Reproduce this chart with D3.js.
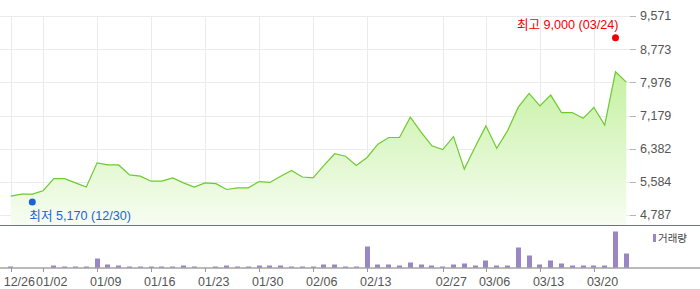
<!DOCTYPE html>
<meta charset="utf-8">
<style>
body { margin: 0; background: #fff; }
text { font-family: "Liberation Sans", Arial, "Noto Sans CJK KR", sans-serif; }
</style>
<body>
<script src="https://cdnjs.cloudflare.com/ajax/libs/d3/7.8.5/d3.min.js"></script>
<script>

// trading days shown on the chart
var dates = ["12/26","12/27","12/30","01/02","01/03","01/06","01/07","01/08","01/09","01/10",
  "01/13","01/14","01/15","01/16","01/17","01/20","01/21","01/22","01/23","01/24",
  "01/27","01/28","01/29","01/30","01/31","02/03","02/04","02/05","02/06","02/07",
  "02/10","02/11","02/12","02/13","02/14","02/17","02/21","02/24","02/25","02/26",
  "02/27","02/28","03/04","03/05","03/06","03/07","03/10","03/11","03/12","03/13",
  "03/14","03/17","03/18","03/19","03/20","03/21","03/24","03/25"];

// closing price
var closes = [5240,5290,5290,5370,5660,5660,5560,5460,6040,5990,
  5990,5750,5720,5600,5600,5680,5560,5460,5560,5540,
  5400,5440,5440,5590,5570,5720,5860,5700,5680,5980,
  6260,6200,5980,6170,6490,6650,6650,7140,6780,6450,
  6360,6670,5890,6420,6930,6390,6810,7380,7710,7410,
  7670,7250,7250,7110,7370,6950,8230,7980];

// traded volume (thousand shares)
var volumes = [100,0,0,0,200,100,100,100,900,300,
  200,100,100,100,100,100,200,100,0,100,
  200,100,100,200,200,200,100,100,100,300,
  300,100,100,2100,300,300,200,500,300,200,
  100,300,400,200,700,200,200,2000,1200,300,
  700,400,200,200,200,200,3600,1400];

var xTicks = ["12/26","01/02","01/09","01/16","01/23","01/30","02/06","02/13","02/27","03/06","03/13","03/20"];
var yTicks = [4787,5584,6382,7179,7976,8773,9571];

var high = {date: "03/24", value: 9000};
var low = {date: "12/30", value: 5170};

var width = 700, height = 289;

var svg = d3.select("body").append("svg")
    .attr("width", width)
    .attr("height", height);

// gradient for the price area
var grad = svg.append("defs").append("linearGradient")
    .attr("id", "areaFill")
    .attr("gradientUnits", "userSpaceOnUse")
    .attr("x1", 0).attr("y1", 60).attr("x2", 0).attr("y2", 225);
grad.append("stop").attr("offset", "0%").attr("stop-color", "#c2f09c");
grad.append("stop").attr("offset", "100%").attr("stop-color", "#f7fdf2");

// scales
var x = d3.scalePoint().domain(dates).range([10.7, 626.3]);
var y = d3.scaleLinear().domain([4787, 9571]).range([215, 16]);
var yVol = d3.scaleLinear().domain([0, 4000]).range([267.5, 227.5]);

// grid
svg.append("g").selectAll("line")
    .data(yTicks)
  .enter().append("line")
    .attr("x1", 0).attr("x2", 630)
    .attr("y1", function(d) { return Math.round(y(d)) + 0.5; })
    .attr("y2", function(d) { return Math.round(y(d)) + 0.5; })
    .attr("stroke", "#ebebeb");

svg.append("g").selectAll("line")
    .data(xTicks)
  .enter().append("line")
    .attr("x1", function(d) { return Math.round(x(d)) + 0.5; })
    .attr("x2", function(d) { return Math.round(x(d)) + 0.5; })
    .attr("y1", 16).attr("y2", 225)
    .attr("stroke", "#ebebeb");

// price area + line
var area = d3.area()
    .x(function(d, i) { return x(dates[i]); })
    .y0(225)
    .y1(function(d) { return y(d); });

var line = d3.line()
    .x(function(d, i) { return x(dates[i]); })
    .y(function(d) { return y(d); });

svg.append("path")
    .datum(closes)
    .attr("fill", "url(#areaFill)")
    .attr("d", area);

svg.append("path")
    .datum(closes)
    .attr("fill", "none")
    .attr("stroke", "#6ccb2f")
    .attr("stroke-width", 1.2)
    .attr("d", line);

// right axis labels
var yAxis = svg.append("g");
yAxis.selectAll("line")
    .data(yTicks)
  .enter().append("line")
    .attr("x1", 630).attr("x2", 636)
    .attr("y1", function(d) { return Math.round(y(d)) + 0.5; })
    .attr("y2", function(d) { return Math.round(y(d)) + 0.5; })
    .attr("stroke", "#b5b5b5");
yAxis.selectAll("text")
    .data(yTicks)
  .enter().append("text")
    .attr("x", 640)
    .attr("y", function(d) { return y(d); })
    .attr("dy", "0.35em")
    .attr("fill", "#555")
    .style("font-size", "12.5px")
    .text(d3.format(","));

// high / low markers
svg.append("circle")
    .attr("cx", x(high.date)).attr("cy", y(high.value) - 2)
    .attr("r", 3.5).attr("fill", "#f00000");
svg.append("text")
    .attr("x", x(high.date) + 3).attr("y", y(high.value) - 15)
    .attr("dy", "0.35em")
    .attr("text-anchor", "end")
    .attr("fill", "#f00000")
    .style("font-size", "12.6px")
    .text("최고 " + d3.format(",")(high.value) + " (" + high.date + ")");

svg.append("circle")
    .attr("cx", x(low.date)).attr("cy", y(low.value) + 3)
    .attr("r", 3.5).attr("fill", "#1b63d6");
svg.append("text")
    .attr("x", x(low.date) - 3).attr("y", y(low.value) + 17)
    .attr("dy", "0.35em")
    .attr("fill", "#1b63d6")
    .style("font-size", "12.6px")
    .text("최저 " + d3.format(",")(low.value) + " (" + low.date + ")");

// volume bars
svg.append("g").selectAll("rect")
    .data(volumes)
  .enter().append("rect")
    .attr("x", function(d, i) { return Math.round(x(dates[i]) - 2.5); })
    .attr("y", function(d) { return yVol(d); })
    .attr("width", 5)
    .attr("height", function(d) { return yVol(0) - yVol(d); })
    .attr("fill", "#9a86c5");

// separator and volume baseline
svg.append("line")
    .attr("x1", 0).attr("x2", width).attr("y1", 225.5).attr("y2", 225.5)
    .attr("stroke", "#6f747a");
svg.append("line")
    .attr("x1", 0).attr("x2", width).attr("y1", 268).attr("y2", 268)
    .attr("stroke", "#777");

// x ticks and labels
var xAxis = svg.append("g");
xAxis.selectAll("line")
    .data(xTicks)
  .enter().append("line")
    .attr("x1", function(d) { return Math.round(x(d)) + 0.5; })
    .attr("x2", function(d) { return Math.round(x(d)) + 0.5; })
    .attr("y1", 268).attr("y2", 272)
    .attr("stroke", "#999");
xAxis.selectAll("text")
    .data(xTicks)
  .enter().append("text")
    .attr("x", function(d) { return x(d) - 7; })
    .attr("y", 282)
    .attr("dy", "0.35em")
    .attr("fill", "#555")
    .style("font-size", "12.5px")
    .text(function(d) { return d; });

// legend
svg.append("rect")
    .attr("x", 653).attr("y", 234).attr("width", 3).attr("height", 8)
    .attr("fill", "#9a86c5");
svg.append("text")
    .attr("x", 658).attr("y", 238)
    .attr("dy", "0.35em")
    .attr("fill", "#444")
    .style("font-size", "10.5px")
    .text("거래량");

</script>
</body>
